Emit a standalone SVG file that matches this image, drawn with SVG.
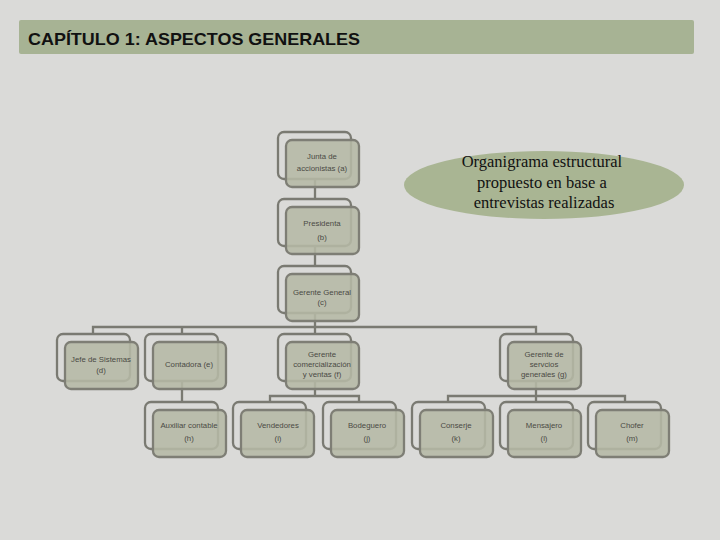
<svg xmlns="http://www.w3.org/2000/svg" width="720" height="540" viewBox="0 0 720 540">
<style>
.bk{fill:none;stroke:#7a7a72;stroke-width:2.3}
.fr{fill:#b5b8a5;fill-opacity:0.88;stroke:#7e7e75;stroke-width:2.3}
.t{font-family:"Liberation Sans",Arial,sans-serif;font-size:7.8px;fill:#4a4a44;text-anchor:middle}
.c{fill:none;stroke:#7a7a72;stroke-width:2.3}
</style>
<defs>
<g id="box">
<rect class="bk" x="0" y="0" width="73" height="47" rx="6"/>
<rect class="fr" x="8" y="8" width="73" height="47" rx="6"/>
</g>
</defs>
<rect width="720" height="540" fill="#dadad8"/>
<g id="header">
<rect x="19" y="20" width="675" height="34" rx="2" fill="#a7b394"/>
<text x="28" y="45" font-family="Liberation Sans,Arial,sans-serif" font-weight="bold" font-size="17" fill="#111" textLength="332" lengthAdjust="spacingAndGlyphs">CAPÍTULO 1: ASPECTOS GENERALES</text>
</g>
<g id="note">
<ellipse cx="544" cy="185" rx="140" ry="34" fill="#a9b593"/>
<text font-family="Liberation Serif,'Times New Roman',serif" font-size="16.5" fill="#111" text-anchor="middle">
<tspan x="544" y="167">Organigrama estructural</tspan>
<tspan x="544" y="188">propuesto en base a</tspan>
<tspan x="544" y="208">entrevistas realizadas</tspan>
</text>
</g>
<g id="connectors">
<path class="c" d="M315 180V199M315 246V266M315 313V334"/>
<path class="c" d="M93 334V327H536V334"/>
<path class="c" d="M182 327V334M182 381V402"/>
<path class="c" d="M315 381V396M270 402V396H359V402"/>
<path class="c" d="M536 381V396M448 402V396H625V402M536 396V402"/>
</g>
<g id="a"><use href="#box" x="278" y="132"/><text class="t"><tspan x="322" y="159">Junta de</tspan><tspan x="322" y="171">accionistas (a)</tspan></text></g>
<g id="b"><use href="#box" x="278" y="199"/><text class="t"><tspan x="322" y="226">Presidenta</tspan><tspan x="322" y="240">(b)</tspan></text></g>
<g id="c"><use href="#box" x="278" y="266"/><text class="t"><tspan x="322" y="295">Gerente General</tspan><tspan x="322" y="305">(c)</tspan></text></g>
<g id="d"><use href="#box" x="57" y="334"/><text class="t"><tspan x="101" y="362">Jefe de Sistemas</tspan><tspan x="101" y="373">(d)</tspan></text></g>
<g id="e"><use href="#box" x="145" y="334"/><text class="t"><tspan x="189" y="367">Contadora (e)</tspan></text></g>
<g id="f"><use href="#box" x="278" y="334"/><text class="t"><tspan x="322" y="357">Gerente</tspan><tspan x="322" y="367">comercialización</tspan><tspan x="322" y="377">y ventas (f)</tspan></text></g>
<g id="g"><use href="#box" x="500" y="334"/><text class="t"><tspan x="544" y="357">Gerente de</tspan><tspan x="544" y="367">servcios</tspan><tspan x="544" y="377">generales (g)</tspan></text></g>
<g id="h"><use href="#box" x="145" y="402"/><text class="t"><tspan x="189" y="428">Auxiliar contable</tspan><tspan x="189" y="441">(h)</tspan></text></g>
<g id="i"><use href="#box" x="233" y="402"/><text class="t"><tspan x="278" y="428">Vendedores</tspan><tspan x="278" y="441">(i)</tspan></text></g>
<g id="j"><use href="#box" x="323" y="402"/><text class="t"><tspan x="367" y="428">Bodeguero</tspan><tspan x="367" y="441">(j)</tspan></text></g>
<g id="k"><use href="#box" x="412" y="402"/><text class="t"><tspan x="456" y="428">Conserje</tspan><tspan x="456" y="441">(k)</tspan></text></g>
<g id="l"><use href="#box" x="500" y="402"/><text class="t"><tspan x="544" y="428">Mensajero</tspan><tspan x="544" y="441">(l)</tspan></text></g>
<g id="m"><use href="#box" x="588" y="402"/><text class="t"><tspan x="632" y="428">Chofer</tspan><tspan x="632" y="441">(m)</tspan></text></g>
</svg>
